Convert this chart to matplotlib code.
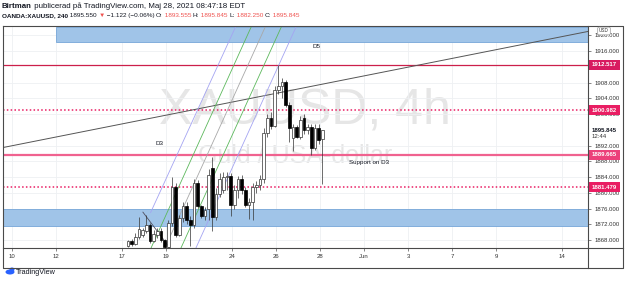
import numpy as np
import matplotlib
matplotlib.use('Agg')
import matplotlib.pyplot as plt
from matplotlib import transforms
from matplotlib.patches import Rectangle, Ellipse
from matplotlib.lines import Line2D

plt.rcParams['font.family'] = ['Liberation Sans', 'DejaVu Sans']

W, H = 625, 283

# time axis in trading days, 0 = Mon May 10
day_ticks = [0, 2, 5, 7, 10, 12, 14, 16, 18, 20, 22, 25]
day_labels = ['10', '12', '17', '19', '24', '26', '28', 'Jun', '3', '7', '9', '14']
price_ticks = [1868, 1872, 1876, 1880, 1884, 1888, 1892, 1900, 1904, 1908, 1916, 1920]

# 4h candles, first one on May 17
first_candle = 5.27
opens = [1866.6, 1867.8, 1867.0, 1868.8, 1869.2, 1870.4, 1871.8, 1867.8, 1869.4, 1870.4,
         1868.0, 1866.2, 1872.4, 1881.6, 1869.4, 1873.6, 1876.6, 1873.0, 1871.8, 1882.6,
         1876.6, 1874.2, 1876.0, 1886.4, 1873.8, 1879.8, 1880.8, 1884.0, 1884.4, 1877.0,
         1880.6, 1883.6, 1880.6, 1877.0, 1877.8, 1881.6, 1882.0, 1883.4, 1895.2, 1899.0,
         1897.0, 1906.0, 1907.0, 1908.2, 1902.4, 1894.0, 1896.6, 1894.2, 1899.0, 1896.0,
         1896.8, 1891.4, 1896.4, 1893.555]
highs = [1868.0, 1868.3, 1869.8, 1873.9, 1871.2, 1874.4, 1872.3, 1870.5, 1871.2, 1871.0,
         1868.4, 1873.0, 1884.1, 1882.4, 1874.4, 1877.6, 1877.8, 1874.0, 1883.6, 1883.2,
         1877.0, 1876.4, 1886.0, 1889.2, 1881.2, 1885.0, 1885.2, 1885.4, 1885.0, 1882.0,
         1884.2, 1884.6, 1881.4, 1878.8, 1882.6, 1883.0, 1884.6, 1896.4, 1900.0, 1900.6,
         1907.0, 1912.5, 1909.2, 1908.6, 1903.0, 1897.4, 1897.2, 1899.6, 1900.0, 1897.6,
         1897.4, 1897.6, 1897.6, 1895.845]
lows = [1866.2, 1866.5, 1866.7, 1868.2, 1868.8, 1869.8, 1867.2, 1867.4, 1868.6, 1867.6,
        1865.2, 1865.8, 1871.6, 1868.8, 1869.0, 1872.6, 1872.2, 1866.4, 1871.2, 1876.2,
        1873.6, 1873.0, 1873.0, 1870.2, 1873.0, 1879.0, 1880.0, 1880.6, 1874.2, 1876.0,
        1878.6, 1879.8, 1876.4, 1873.4, 1873.0, 1880.0, 1880.6, 1882.6, 1894.2, 1896.2,
        1896.6, 1905.0, 1904.0, 1901.8, 1892.8, 1890.6, 1893.8, 1893.6, 1895.0, 1895.0,
        1889.6, 1890.8, 1892.4, 1882.25]
closes = [1867.8, 1867.0, 1868.8, 1870.8, 1870.6, 1871.8, 1867.8, 1869.6, 1870.4, 1868.0,
          1866.2, 1872.4, 1881.6, 1869.4, 1873.6, 1876.6, 1873.0, 1871.8, 1882.6, 1876.6,
          1874.2, 1875.6, 1884.6, 1873.8, 1879.8, 1883.6, 1884.0, 1884.4, 1877.0, 1880.6,
          1883.6, 1880.6, 1877.0, 1877.8, 1881.6, 1882.0, 1883.4, 1895.2, 1899.0, 1897.0,
          1906.0, 1907.0, 1908.2, 1902.4, 1896.4, 1896.6, 1894.2, 1898.6, 1896.0, 1896.8,
          1891.4, 1896.4, 1893.4, 1895.845]

# horizontal levels
level_prices = [1912.517, 1900.982, 1889.665, 1881.479]

# zones: (start day, low, high)
zone_top = (2.0, 1918.4, 1922.0)
zone_bottom = (-1.0, 1871.7, 1875.9)

# trend line
trend_x = [-0.5, 26.3]
trend_y = [1891.4, 1921.1]

# fib channel lines (x0, y0, x1, y1)
fib_lines = [(6.3, 1875.0, 10.2, 1922.6),
             (6.32, 1866.0, 10.91, 1922.6),
             (6.95, 1866.0, 11.55, 1922.6),
             (7.68, 1866.0, 12.28, 1922.6),
             (8.36, 1866.0, 12.95, 1922.6)]
fib_colors = ['#a4a4f2', '#5cb85c', '#a8a8a8', '#5cb85c', '#a4a4f2']

# small diagonal line near the low
diag_x = [5.95, 7.18]
diag_y = [1875.1, 1866.0]

fig = plt.figure(figsize=(W / 100, H / 100), dpi=100)
fig.patch.set_facecolor('white')
ax = fig.add_axes([3 / W, (H - 248) / H, 585 / W, 222 / H])
ax.set_xlim(-0.409, 26.18)
ax.set_ylim(1866.0, 1922.35)
for s in ax.spines.values():
    s.set_visible(False)

ax.set_xticks(day_ticks)
ax.set_xticklabels(day_labels)
ax.yaxis.tick_right()
ax.set_yticks(price_ticks)
ax.set_yticklabels([f'{p:.3f}' for p in price_ticks])
ax.tick_params(axis='both', length=2, width=0.5, color='#555555', labelsize=4.3,
               labelcolor='#333333', pad=2.5)
ax.grid(True, color='#eef0f3', lw=0.6)
ax.set_axisbelow(True)

# watermark
ax.text(0.516, 0.62, 'XAUUSD, 4h', transform=ax.transAxes, fontsize=36, color='#e6e6e6',
        ha='center', va='center', zorder=0.5)
ax.text(0.5, 0.415, 'Guld / USA-dollar', transform=ax.transAxes, fontsize=18, color='#e6e6e6',
        ha='center', va='center', zorder=0.5)

# zones
for x0, lo, hi in [zone_top, zone_bottom]:
    ax.add_patch(Rectangle((x0, lo), 30, hi - lo, fc='#a0c4e8', ec='#76a6d8', lw=0.6, zorder=1))

# levels
ax.axhline(level_prices[0], color='#cc1f4a', lw=0.9, zorder=2)
ax.axhline(level_prices[1], color='#e91e63', lw=1.1, ls=(0, (1, 1.5)), zorder=2)
ax.axhline(level_prices[2], color='#f0628f', lw=1.6, zorder=2)
ax.axhline(level_prices[3], color='#e91e63', lw=1.1, ls=(0, (1, 1.5)), zorder=2)

ax.plot(trend_x, trend_y, color='#555555', lw=0.7, zorder=2)
for (x0, y0, x1, y1), c in zip(fib_lines, fib_colors):
    ax.plot([x0, x1], [y0, y1], color=c, lw=0.6, zorder=2)
ax.plot(diag_x, diag_y, color='#505060', lw=0.6, zorder=2)

# candles
o = np.array(opens)
h = np.array(highs)
l = np.array(lows)
c = np.array(closes)
x = first_candle + np.arange(len(o)) / 6
up = c >= o
ax.vlines(x, l, h, color='#333333', lw=0.5, zorder=3)
ax.bar(x[up], (c - o)[up], bottom=o[up], width=0.12, color='white', edgecolor='#333333',
       lw=0.5, zorder=4)
ax.bar(x[~up], (o - c)[~up], bottom=c[~up], width=0.12, color='black', edgecolor='black',
       lw=0.5, zorder=4)

# annotations
ax.text(13.82, 1917.1, 'D5', fontsize=4.5, color='#131722', ha='center', va='center', zorder=6)
ax.text(6.7, 1892.6, 'D3', fontsize=4.5, color='#131722', ha='center', va='center', zorder=6)
ax.text(15.3, 1887.8, 'Support on D3', fontsize=4.5, color='#131722', ha='left', va='center',
        zorder=6)

# price scale labels
trans = transforms.blended_transform_factory(ax.transAxes, ax.transData)
label_colors = ['#d81b60', '#e91e63', '#ec407a', '#e91e63']
for p, col in zip(level_prices, label_colors):
    ax.text(1.0068, p, f'{p:.3f}', transform=trans, color='white', fontsize=4.3,
            fontweight='bold', ha='left', va='center', clip_on=False, zorder=10,
            bbox=dict(boxstyle='square,pad=0.45', fc=col, ec='none'))
last = closes[-1]
ax.text(1.0068, last, f'{last:.3f}', transform=trans, color='#131722', fontsize=4.3,
        fontweight='bold', ha='left', va='center', clip_on=False, zorder=10)
ax.annotate('12:44', xy=(1.0068, last), xycoords=trans, xytext=(0, -4.6),
            textcoords='offset points', fontsize=4.3, color='#333333', ha='left', va='center')

# frame, in pixel coords (y down)
pxt = transforms.Affine2D().scale(1 / W, -1 / H).translate(0, 1) + fig.transFigure
frame_col = '#4a4a4a'
for xs, ys in [([3, 623, 623, 3, 3], [26, 26, 268, 268, 26]),
               ([588, 588], [26, 268]),
               ([3, 623], [248, 248])]:
    fig.add_artist(Line2D(xs, ys, transform=pxt, color=frame_col, lw=0.8))

fig.text(604 / W, 1 - 31 / H, 'USD', fontsize=3.3, color='#333333', ha='center', va='center',
         bbox=dict(boxstyle='round,pad=0.3', fc='white', ec='#9a9a9a', lw=0.5))

# header
renderer = fig.canvas.get_renderer()


def write_line(parts, x_px, y_px, size):
    xp = x_px
    for s, col, weight in parts:
        t = fig.text(xp / W, 1 - y_px / H, s, color=col, fontweight=weight, fontsize=size,
                     ha='left', va='center')
        xp += t.get_window_extent(renderer=renderer).width


red = '#ef5350'
dark = '#131722'
write_line([('Birtman', dark, 'bold'),
            (' publicerad på TradingView.com, Maj 28, 2021 08:47:18 EDT', dark, 'normal')],
           2, 6, 5.7)
write_line([('OANDA:XAUUSD, 240', dark, 'bold'),
            (' 1895.550 ', dark, 'normal'),
            ('▼', red, 'normal'),
            (' \u22121.122 (\u22120.06%) ', dark, 'normal'),
            ('O:', dark, 'normal'), (' 1893.555 ', red, 'normal'),
            ('H:', dark, 'normal'), (' 1895.845 ', red, 'normal'),
            ('L:', dark, 'normal'), (' 1882.250 ', red, 'normal'),
            ('C:', dark, 'normal'), (' 1895.845', red, 'normal')], 2, 15.5, 4.6)

# footer logo
fig.add_artist(Ellipse((10, 272), 9, 5, transform=pxt, fc='#2962ff', ec='none'))
fig.add_artist(Ellipse((12, 269.5), 5, 4, transform=pxt, fc='#2962ff', ec='none'))
fig.text(16 / W, 1 - 272 / H, 'TradingView', fontsize=5.2, color=dark, ha='left', va='center')

fig.savefig('out.png', dpi=100)
